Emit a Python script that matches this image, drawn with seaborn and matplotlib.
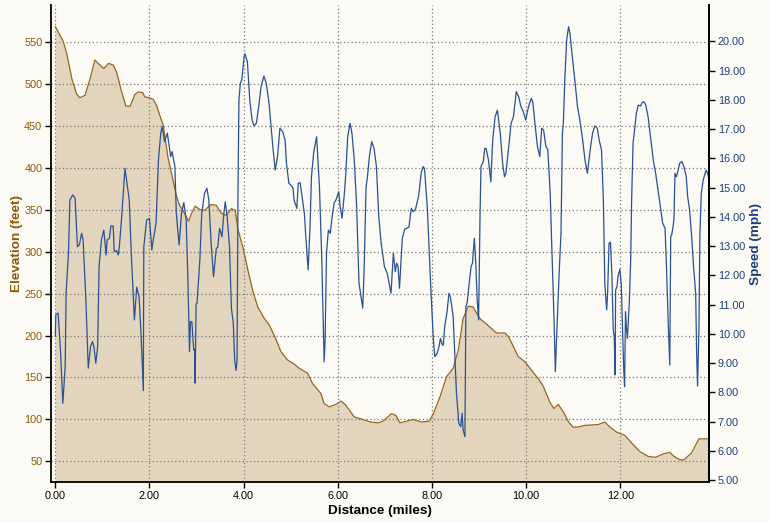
import matplotlib
matplotlib.use("Agg")
import matplotlib.pyplot as plt
import seaborn as sns
from matplotlib.ticker import FormatStrFormatter, MultipleLocator

# ---- data ----
elev_mi = [0.00, 0.17, 0.25, 0.35, 0.45, 0.52, 0.63, 0.74, 0.84, 0.91, 1.03, 1.13, 1.23, 1.30,
           1.39, 1.50, 1.59, 1.69, 1.76, 1.86, 1.90, 2.01, 2.08, 2.15, 2.22, 2.29, 2.39, 2.50,
           2.57, 2.64, 2.75, 2.83, 2.89, 2.97, 3.07, 3.17, 3.31, 3.42, 3.52, 3.63, 3.74, 3.82,
           3.88, 3.99, 4.09, 4.20, 4.30, 4.43, 4.55, 4.69, 4.79, 4.93, 5.07, 5.18, 5.36, 5.46,
           5.64, 5.71, 5.82, 5.96, 6.07, 6.17, 6.35, 6.53, 6.70, 6.85, 6.96, 7.14, 7.23, 7.32,
           7.46, 7.60, 7.78, 7.94, 8.03, 8.17, 8.31, 8.45, 8.56, 8.66, 8.77, 8.87, 9.02, 9.19,
           9.37, 9.55, 9.62, 9.72, 9.83, 9.97, 10.11, 10.25, 10.36, 10.50, 10.59, 10.68, 10.79,
           10.89, 10.99, 11.10, 11.25, 11.53, 11.67, 11.78, 11.92, 12.10, 12.24, 12.41, 12.59,
           12.75, 12.91, 13.05, 13.12, 13.26, 13.35, 13.51, 13.67, 13.87]
elev_ft = [568, 550, 534, 506, 488, 483, 486, 506, 528, 524, 518, 524, 522, 514,
           494, 473, 473, 487, 490, 489, 484, 483, 481, 474, 462, 451, 413, 385,
           367, 355, 345, 336, 345, 354, 350, 349, 356, 355, 346, 343, 351, 349,
           326, 304, 278, 252, 234, 221, 212, 195, 181, 171, 166, 161, 155, 143,
           131, 119, 115, 118, 122, 117, 103, 100, 97, 96, 98, 107, 105, 96,
           98, 100, 97, 98, 107, 127, 151, 161, 183, 220, 235, 234, 220, 212,
           203, 203, 199, 188, 175, 169, 159, 149, 140, 121, 113, 118, 109,
           98, 91, 91, 93, 94, 97, 91, 85, 81, 72, 62, 56,
           55, 59, 61, 57, 52, 52, 60, 77, 77]

speed_mi = [0.00, 0.01, 0.06, 0.11, 0.16, 0.21, 0.23, 0.28, 0.31, 0.37, 0.42, 0.47, 0.51, 0.56,
            0.59, 0.65, 0.70, 0.75, 0.79, 0.82, 0.86, 0.90, 0.93, 0.98, 1.03, 1.08, 1.10, 1.15,
            1.18, 1.23, 1.25, 1.30, 1.34, 1.36, 1.41, 1.48, 1.57, 1.62, 1.68, 1.73, 1.78, 1.82,
            1.87, 1.88, 1.94, 2.00, 2.05, 2.08, 2.14, 2.19, 2.24, 2.27, 2.32, 2.38, 2.45, 2.48,
            2.54, 2.57, 2.63, 2.68, 2.73, 2.78, 2.82, 2.85, 2.87, 2.90, 2.94, 2.96, 2.97, 2.99,
            3.01, 3.07, 3.11, 3.17, 3.22, 3.26, 3.31, 3.36, 3.42, 3.45, 3.49, 3.54, 3.58, 3.61,
            3.65, 3.70, 3.74, 3.78, 3.81, 3.84, 3.86, 3.88, 3.90, 3.93, 3.96, 4.01, 4.03, 4.08,
            4.13, 4.18, 4.22, 4.27, 4.32, 4.37, 4.43, 4.48, 4.54, 4.62, 4.67, 4.72, 4.77, 4.83,
            4.88, 4.91, 4.96, 5.00, 5.05, 5.07, 5.13, 5.16, 5.20, 5.29, 5.32, 5.37, 5.41, 5.44,
            5.49, 5.55, 5.61, 5.66, 5.71, 5.73, 5.76, 5.80, 5.84, 5.87, 5.92, 5.96, 6.02, 6.05,
            6.09, 6.14, 6.17, 6.21, 6.26, 6.30, 6.35, 6.40, 6.45, 6.53, 6.56, 6.60, 6.63, 6.67,
            6.72, 6.77, 6.82, 6.87, 6.92, 6.99, 7.05, 7.13, 7.18, 7.22, 7.25, 7.28, 7.31, 7.37,
            7.42, 7.51, 7.56, 7.60, 7.65, 7.72, 7.77, 7.81, 7.84, 7.90, 7.93, 7.98, 8.03, 8.06,
            8.11, 8.15, 8.18, 8.22, 8.24, 8.27, 8.32, 8.36, 8.39, 8.45, 8.48, 8.52, 8.57, 8.61,
            8.64, 8.66, 8.70, 8.72, 8.75, 8.79, 8.83, 8.86, 8.90, 8.93, 8.96, 8.99, 9.02, 9.04,
            9.09, 9.12, 9.15, 9.20, 9.25, 9.29, 9.34, 9.39, 9.45, 9.50, 9.54, 9.57, 9.63, 9.68,
            9.73, 9.79, 9.84, 9.89, 9.94, 9.99, 10.05, 10.11, 10.14, 10.19, 10.24, 10.29, 10.33,
            10.37, 10.42, 10.46, 10.51, 10.55, 10.59, 10.62, 10.65, 10.70, 10.74, 10.77, 10.79,
            10.82, 10.86, 10.90, 10.93, 10.98, 11.04, 11.09, 11.14, 11.20, 11.25, 11.30, 11.36,
            11.41, 11.46, 11.51, 11.55, 11.60, 11.64, 11.67, 11.71, 11.73, 11.76, 11.79, 11.82,
            11.85, 11.87, 11.89, 11.90, 11.93, 11.95, 11.99, 12.02, 12.04, 12.07, 12.09, 12.11,
            12.13, 12.15, 12.19, 12.22, 12.24, 12.27, 12.31, 12.34, 12.38, 12.43, 12.46, 12.50,
            12.54, 12.59, 12.64, 12.70, 12.75, 12.80, 12.86, 12.90, 12.95, 12.98, 13.02, 13.05,
            13.07, 13.09, 13.12, 13.14, 13.16, 13.19, 13.22, 13.26, 13.31, 13.35, 13.40, 13.43,
            13.47, 13.51, 13.56, 13.60, 13.62, 13.64, 13.67, 13.69, 13.72, 13.76, 13.82, 13.85,
            13.88]
speed_mph = [9.91, 10.65, 10.71, 9.45, 7.63, 8.88, 11.39, 12.76, 14.58, 14.75, 14.64, 12.98, 13.04, 13.44,
             13.21, 11.16, 8.83, 9.57, 9.74, 9.57, 9.00, 9.57, 12.30, 13.21, 13.55, 12.70, 13.21, 13.27,
             13.69, 13.69, 12.81, 12.85, 12.70, 12.98, 14.01, 15.66, 14.58, 12.53, 10.48, 11.60, 11.27, 10.02,
             8.06, 12.98, 13.89, 13.95, 12.87, 13.21, 13.78, 15.94, 16.86, 17.08, 16.57, 16.86, 16.06, 16.23,
             15.72, 14.12, 13.04, 14.12, 14.49, 13.89, 11.62, 9.40, 10.42, 10.42, 9.45, 9.48, 8.32, 11.02,
             11.05, 12.53, 14.12, 14.81, 14.98, 14.58, 13.10, 11.96, 12.93, 12.96, 13.61, 13.32, 14.12, 14.52,
             14.01, 12.98, 10.88, 10.37, 9.11, 8.75, 9.11, 14.81, 17.99, 18.57, 18.68, 19.47, 19.57, 19.30,
             17.99, 17.31, 17.11, 17.20, 17.77, 18.45, 18.81, 18.57, 17.88, 16.40, 15.60, 16.06, 17.03, 16.91,
             16.63, 15.83, 15.15, 15.09, 14.98, 14.58, 14.29, 15.15, 15.17, 14.12, 13.32, 12.19, 13.67, 15.37,
             16.23, 16.74, 15.03, 12.53, 9.05, 9.79, 12.76, 13.55, 13.44, 13.89, 14.47, 14.58, 14.86, 14.35,
             13.95, 14.81, 15.49, 16.74, 17.20, 16.86, 15.94, 14.35, 11.73, 10.88, 12.30, 15.03, 15.37, 16.06,
             16.57, 16.34, 15.72, 14.01, 13.10, 12.30, 12.07, 11.39, 12.76, 12.13, 12.42, 12.30, 11.56, 13.27,
             13.58, 13.65, 14.29, 14.18, 14.26, 14.75, 15.49, 15.72, 15.66, 14.35, 13.21, 11.39, 9.79, 9.22,
             9.34, 9.57, 9.85, 9.62, 9.62, 10.25, 10.76, 11.39, 11.27, 10.59, 9.45, 7.97, 6.95, 6.83,
             7.29, 6.72, 6.49, 10.93, 11.10, 11.73, 12.30, 12.42, 13.27, 12.42, 11.16, 10.48, 14.01, 15.72,
             15.89, 16.34, 16.34, 15.94, 15.20, 16.63, 17.42, 17.65, 16.86, 15.83, 15.37, 15.49, 16.40, 17.20,
             17.42, 18.28, 18.11, 17.77, 17.59, 17.31, 17.77, 18.05, 17.94, 17.14, 16.40, 16.06, 17.03,
             16.97, 16.40, 16.29, 14.81, 12.76, 10.59, 8.71, 10.02, 12.07, 13.44, 16.86, 17.20,
             18.68, 20.04, 20.50, 20.27, 19.47, 18.57, 17.77, 17.31, 16.63, 15.94, 15.49, 16.29,
             16.86, 17.11, 17.03, 16.63, 16.29, 14.58, 11.73, 10.82, 11.39, 13.10, 13.14, 12.07,
             10.14, 9.91, 8.60, 11.50, 11.62, 11.96, 12.21, 11.67, 10.59, 8.88, 8.20, 10.76,
             10.19, 9.85, 11.05, 12.53, 14.58, 16.52, 17.08, 17.54, 17.82, 17.79, 17.90, 17.94,
             17.82, 17.42, 16.74, 15.94, 15.49, 14.92, 14.24, 13.78, 13.61, 12.30, 10.25, 8.94,
             13.32, 13.38, 13.67, 13.95, 15.49, 15.37, 15.54, 15.83, 15.89, 15.72, 15.37, 14.69,
             14.24, 13.44, 12.19, 11.39, 9.34, 8.22, 10.25, 13.44, 14.81, 15.26, 15.60, 15.49,
             15.32]

elev_ticks = [50, 100, 150, 200, 250, 300, 350, 400, 450, 500, 550]
speed_ticks = [5, 6, 7, 8, 9, 10, 11, 12, 13, 14, 15, 16, 17, 18, 19, 20]

# colours
bg = "#FBFAF5"
fill_col = "#E3D5BD"
elev_col = "#96661C"
elev_txt = "#8B5A08"
speed_col = "#2A5192"
speed_txt = "#1F3E7C"

sns.set_theme(style="ticks")
plt.rcParams["font.family"] = ["Liberation Sans", "DejaVu Sans"]

fig = plt.figure(figsize=(7.69, 5.23), dpi=100, facecolor=bg)
ax = fig.add_axes([0.0659, 0.0778, 0.8565, 0.9126], facecolor=bg)

ax.fill_between(elev_mi, elev_ft, 0, color=fill_col, linewidth=0, zorder=1)
sns.lineplot(x=elev_mi, y=elev_ft, ax=ax, color=elev_col, linewidth=0.9, zorder=2,
             sort=False, estimator=None)

ax.set_xlim(-0.098, 13.89)
ax.set_ylim(25.2, 593.5)
ax.set_yticks(elev_ticks)
ax.xaxis.set_major_locator(MultipleLocator(2))
ax.xaxis.set_major_formatter(FormatStrFormatter("%.2f"))
ax.grid(True, color="#7A7A7A", linestyle=(0, (1, 2)), linewidth=0.9)
ax.set_axisbelow("line")

ax2 = ax.twinx()
sns.lineplot(x=speed_mi, y=speed_mph, ax=ax2, color=speed_col, linewidth=0.9,
             sort=False, estimator=None)
ax2.set_ylim(4.93, 21.24)
ax2.set_yticks(speed_ticks)
ax2.yaxis.set_major_formatter(FormatStrFormatter("%.2f"))
ax2.grid(False)

for a in (ax, ax2):
    a.spines["top"].set_visible(False)
    for s in a.spines.values():
        s.set_color("black")
        s.set_linewidth(1.3)
ax2.spines["left"].set_visible(False)
ax2.spines["bottom"].set_visible(False)

ax.tick_params(axis="x", length=4, width=1, pad=2, labelsize=7.8, colors="black")
ax.tick_params(axis="y", length=4, width=1, pad=2, labelsize=7.8,
               color="black", labelcolor=elev_txt)
ax2.tick_params(axis="y", length=4, width=1, pad=2, labelsize=7.8,
                color="black", labelcolor=speed_txt)

ax.set_xlabel("Distance (miles)", fontsize=9.7, fontweight="bold", color="black", labelpad=3)
ax.set_ylabel("Elevation (feet)", fontsize=9.7, fontweight="bold", color=elev_txt, labelpad=1)
ax2.set_ylabel("Speed (mph)", fontsize=9.7, fontweight="bold", color=speed_txt, labelpad=4)

fig.savefig("out.png", dpi=100, facecolor=bg)
